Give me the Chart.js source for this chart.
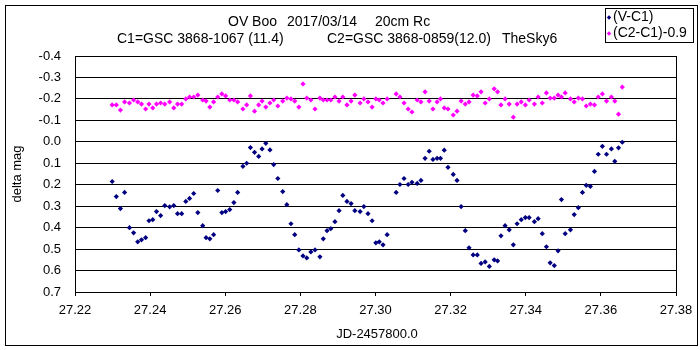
<!DOCTYPE html>
<html>
<head>
<meta charset="utf-8">
<script src="https://cdn.jsdelivr.net/npm/chart.js@4/dist/chart.umd.min.js"></script>
<style>
  html, body { margin: 0; padding: 0; background: #fff; }
</style>
</head>
<body>
<canvas id="chart" width="700" height="350"></canvas>
<script>
// Observation times (JD - 2457800.0)
const jd = [
  27.2299, 27.2310, 27.2321, 27.2332, 27.2345, 27.2356, 27.2367, 27.2377, 27.2388, 27.2397,
  27.2407, 27.2417, 27.2428, 27.2439, 27.2452, 27.2463, 27.2473, 27.2484, 27.2495, 27.2505,
  27.2516, 27.2527, 27.2540, 27.2549, 27.2559, 27.2569, 27.2580, 27.2591, 27.2601, 27.2612,
  27.2623, 27.2633, 27.2647, 27.2657, 27.2667, 27.2678, 27.2689, 27.2698, 27.2708, 27.2719,
  27.2729, 27.2740, 27.2753, 27.2764, 27.2775, 27.2785, 27.2796, 27.2807, 27.2817, 27.2828,
  27.2839, 27.2852, 27.2861, 27.2871, 27.2881, 27.2892, 27.2903, 27.2913, 27.2924, 27.2935,
  27.2945, 27.2959, 27.2969, 27.2980, 27.2991, 27.3001, 27.3010, 27.3020, 27.3031, 27.3055,
  27.3065, 27.3076, 27.3087, 27.3097, 27.3111, 27.3121, 27.3132, 27.3143, 27.3153, 27.3164,
  27.3173, 27.3183, 27.3193, 27.3207, 27.3217, 27.3228, 27.3239, 27.3249, 27.3260, 27.3271,
  27.3281, 27.3292, 27.3303, 27.3316, 27.3325, 27.3334, 27.3345, 27.3356, 27.3367, 27.3377,
  27.3388, 27.3399, 27.3409, 27.3423, 27.3433, 27.3444, 27.3455, 27.3465, 27.3476, 27.3486,
  27.3495, 27.3505, 27.3519, 27.3529, 27.3540, 27.3551, 27.3561, 27.3572, 27.3583, 27.3593,
  27.3604, 27.3615, 27.3628, 27.3637, 27.3647, 27.3657
];

// (V-C1)
const vMinusC1 = [
  0.185, 0.255, 0.311, 0.236, 0.400, 0.424, 0.466, 0.457, 0.447, 0.368,
  0.363, 0.325, 0.344, 0.297, 0.303, 0.297, 0.335, 0.335, 0.278, 0.264,
  0.241, 0.330, 0.391, 0.447, 0.452, 0.433, 0.227, 0.330, 0.325, 0.316,
  0.283, 0.236, 0.114, 0.100, 0.027, 0.049, 0.068, 0.033, 0.007, 0.038,
  0.106, 0.171, 0.232, 0.293, 0.382, 0.433, 0.504, 0.532, 0.541, 0.513,
  0.504, 0.536, 0.452, 0.414, 0.405, 0.372, 0.321, 0.250, 0.278, 0.288,
  0.321, 0.325, 0.302, 0.335, 0.368, 0.471, 0.466, 0.480, 0.433, 0.236,
  0.199, 0.171, 0.199, 0.189, 0.194, 0.180, 0.077, 0.044, 0.082, 0.077,
  0.077, 0.039, 0.119, 0.152, 0.180, 0.302, 0.414, 0.494, 0.527, 0.527,
  0.567, 0.560, 0.581, 0.550, 0.555, 0.438, 0.391, 0.410, 0.480, 0.382,
  0.363, 0.353, 0.353, 0.372, 0.358, 0.428, 0.489, 0.564, 0.577, 0.508,
  0.269, 0.428, 0.410, 0.339, 0.307, 0.236, 0.203, 0.208, 0.138, 0.058,
  0.021, 0.058, 0.033, 0.091, 0.028, 0.002
];

// (C2-C1)-0.9
const c2MinusC1 = [
  -0.172, -0.172, -0.148, -0.186, -0.181, -0.195, -0.186, -0.176, -0.153, -0.176,
  -0.158, -0.176, -0.181, -0.176, -0.186, -0.158, -0.176, -0.176, -0.200, -0.209,
  -0.209, -0.218, -0.195, -0.190, -0.162, -0.186, -0.209, -0.223, -0.214, -0.195,
  -0.195, -0.186, -0.153, -0.172, -0.214, -0.143, -0.172, -0.190, -0.162, -0.181,
  -0.195, -0.167, -0.190, -0.204, -0.200, -0.190, -0.162, -0.270, -0.204, -0.195,
  -0.153, -0.204, -0.195, -0.195, -0.195, -0.209, -0.190, -0.209, -0.172, -0.190,
  -0.218, -0.181, -0.200, -0.186, -0.162, -0.200, -0.195, -0.181, -0.200, -0.223,
  -0.209, -0.181, -0.153, -0.139, -0.195, -0.186, -0.233, -0.190, -0.153, -0.186,
  -0.200, -0.158, -0.153, -0.125, -0.143, -0.190, -0.176, -0.186, -0.218, -0.214,
  -0.233, -0.181, -0.200, -0.247, -0.233, -0.172, -0.200, -0.176, -0.115, -0.176,
  -0.186, -0.172, -0.195, -0.176, -0.209, -0.181, -0.228, -0.204, -0.204, -0.218,
  -0.209, -0.228, -0.200, -0.186, -0.204, -0.200, -0.167, -0.176, -0.172, -0.209,
  -0.223, -0.190, -0.209, -0.190, -0.129, -0.255
];

const seriesNames = ["(V-C1)", "(C2-C1)-0.9"];
const seriesColors = ["#000080", "#ff00ff"];
const xRange = [27.22, 27.38];
const yRange = [-0.4, 0.7];

const FONT = "'Liberation Sans', Arial, sans-serif";

function toPoints(ys) {
  return jd.map((x, i) => ({ x: x, y: ys[i] }));
}

function diamond(ctx, x, y, r, color) {
  ctx.fillStyle = color;
  ctx.beginPath();
  ctx.moveTo(x, y - r);
  ctx.lineTo(x + r, y);
  ctx.lineTo(x, y + r);
  ctx.lineTo(x - r, y);
  ctx.closePath();
  ctx.fill();
}

// titles, frames and legend box
const decorations = {
  id: "decorations",
  afterDraw(chart) {
    const ctx = chart.ctx;
    const a = chart.chartArea;
    ctx.save();
    ctx.strokeStyle = "#000";
    ctx.lineWidth = 1;

    // plot area border
    ctx.strokeRect(Math.round(a.left) + 0.5, Math.round(a.top) + 0.5,
                   Math.round(a.right - a.left), Math.round(a.bottom - a.top));
    // outer frame
    ctx.strokeRect(5.5, 5.5, 692, 340);

    ctx.fillStyle = "#000";
    ctx.textBaseline = "middle";
    ctx.textAlign = "left";

    // chart title
    ctx.font = "14px " + FONT;
    ctx.fillText("OV Boo", 228, 22);
    ctx.fillText("2017/03/14", 287, 22);
    ctx.fillText("20cm Rc", 375, 22);
    ctx.fillText("C1=GSC 3868-1067 (11.4)", 117, 39);
    ctx.fillText("C2=GSC 3868-0859(12.0)", 327, 39);
    ctx.fillText("TheSky6", 502, 39);

    // axis titles
    ctx.font = "13px " + FONT;
    ctx.textAlign = "center";
    ctx.fillText("JD-2457800.0", 377, 334);
    ctx.save();
    ctx.translate(17.5, 174);
    ctx.rotate(-Math.PI / 2);
    ctx.fillText("delta mag", 0, 0);
    ctx.restore();

    // legend
    ctx.strokeRect(605.5, 8.5, 88, 34);
    ctx.font = "14px " + FONT;
    ctx.textAlign = "left";
    seriesNames.forEach((name, i) => {
      const y = 17.5 + i * 16;
      diamond(ctx, 609, y, 2.2, seriesColors[i]);
      ctx.fillStyle = "#000";
      ctx.fillText(name, 613, y);
    });
    ctx.restore();
  }
};

Chart.defaults.font.family = FONT;
Chart.defaults.font.size = 13;
Chart.defaults.color = "#000";

new Chart(document.getElementById("chart").getContext("2d"), {
  type: "scatter",
  data: {
    datasets: [
      {
        label: seriesNames[0],
        data: toPoints(vMinusC1),
        backgroundColor: seriesColors[0],
        borderColor: seriesColors[0],
        pointStyle: "rectRot",
        pointRadius: 2.6,
        borderWidth: 0,
      },
      {
        label: seriesNames[1],
        data: toPoints(c2MinusC1),
        backgroundColor: seriesColors[1],
        borderColor: seriesColors[1],
        pointStyle: "rectRot",
        pointRadius: 2.6,
        borderWidth: 0,
      },
    ],
  },
  options: {
    responsive: false,
    animation: false,
    devicePixelRatio: 1,
    layout: { padding: { left: 0, right: 24, top: 56, bottom: 0 } },
    plugins: {
      legend: { display: false },
      tooltip: { enabled: false },
    },
    scales: {
      x: {
        type: "linear",
        position: "bottom",
        min: xRange[0],
        max: xRange[1],
        afterFit: (scale) => { scale.height = 58; },
        ticks: {
          stepSize: 0.02,
          maxRotation: 0,
          autoSkip: false,
          padding: 7,
          font: { size: 13 },
          callback: (v) => v.toFixed(2),
        },
        grid: {
          drawOnChartArea: false,
          drawTicks: true,
          tickLength: 4,
          color: "#000",
        },
        border: { color: "#000" },
      },
      y: {
        type: "linear",
        reverse: true,
        min: yRange[0],
        max: yRange[1],
        afterFit: (scale) => { scale.width = 75; },
        ticks: {
          stepSize: 0.1,
          padding: 14,
          font: { size: 13 },
          callback: (v) => (Math.abs(v) < 1e-9 ? "0.0" : v.toFixed(1)),
        },
        grid: {
          drawTicks: false,
          color: "#000",
        },
        border: { color: "#000" },
      },
    },
  },
  plugins: [decorations],
});
</script>
</body>
</html>
